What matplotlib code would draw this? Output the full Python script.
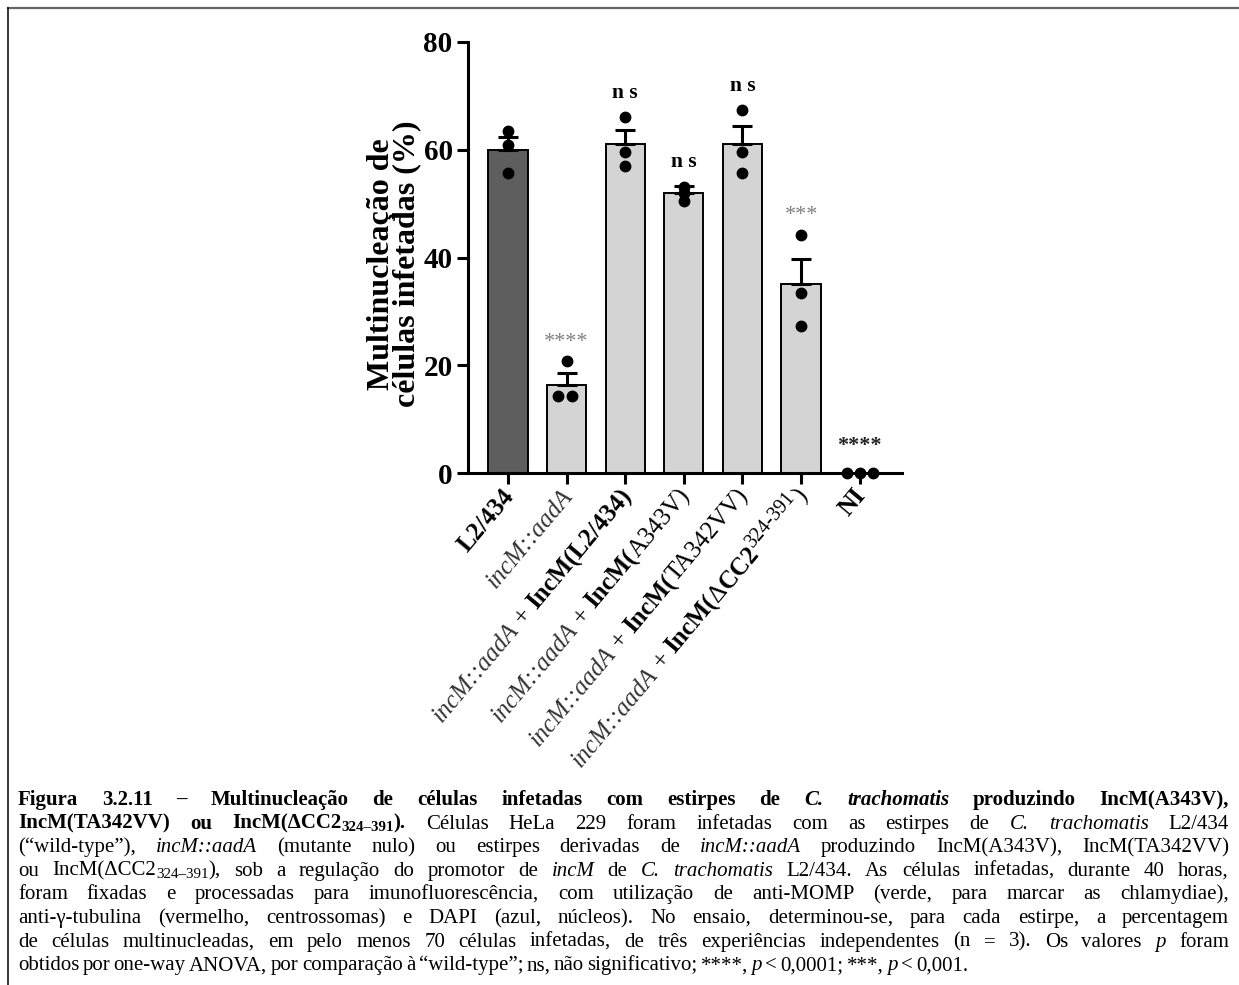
import numpy as np
import matplotlib
matplotlib.use("Agg")
import matplotlib.pyplot as plt
from matplotlib import transforms
from matplotlib.lines import Line2D

# ---------- dados ----------
strains = ["L2/434", "incM::aadA", "IncM(L2/434)", "IncM(A343V)",
           "IncM(TA342VV)", "IncM(ΔCC2 324-391)", "NI"]
means = [60.0, 16.4, 61.0, 51.9, 61.0, 35.0, 0.0]
sems = [2.3, 2.1, 2.6, 1.3, 3.4, 4.8, 0.0]
replicates = [
    [63.5, 60.8, 55.7],
    [20.7, 14.2, 14.2],
    [66.0, 59.6, 57.0],
    [53.1, 52.0, 50.5],
    [67.3, 59.6, 55.7],
    [44.2, 33.5, 27.2],
    [0.0, 0.0, 0.0],
]
signif = ["", "****", "n s", "n s", "n s", "***", "****"]
yticks = [0, 20, 40, 60, 80]

# ---------- estilo ----------
W, H, DPI = 1239, 985, 100
SERIF = "Liberation Serif"
FONT = {
    "r": dict(weight="normal", style="normal"),
    "b": dict(weight="bold", style="normal"),
    "i": dict(weight="normal", style="italic"),
    "bi": dict(weight="bold", style="italic"),
}
bar_colors = ["#5e5e5e"] + ["#d4d4d4"] * 6
dot_dx = [[0, 0, 0], [0, -0.14, 0.10], [0, 0, 0], [0, 0, 0],
          [0, 0, 0], [0, 0, 0], [-0.22, 0, 0.22]]

# rótulos do eixo x: (texto, estilo, mod) ou None para espaço
tick_pieces = [
    [("L2/434", "b", "")],
    [("incM::aadA", "i", "")],
    [("incM::aadA", "i", ""), None, ("+", "r", ""), None, ("IncM(L2/434)", "b", "")],
    [("incM::aadA", "i", ""), None, ("+", "r", ""), None, ("IncM(", "b", ""), ("A343V)", "r", "")],
    [("incM::aadA", "i", ""), None, ("+", "r", ""), None, ("IncM(", "b", ""), ("TA342VV)", "r", "")],
    [("incM::aadA", "i", ""), None, ("+", "r", ""), None, ("IncM(", "b", ""), ("Δ", "r", ""),
     ("CC2", "b", ""), ("324-391", "r", "sup"), (")", "r", "")],
    [("NI", "b", "")],
]

caption = [
    [("Figura 3.2.11 – Multinucleação de células infetadas com estirpes de ", "b", ""),
     ("C. trachomatis", "bi", ""), (" produzindo IncM(A343V),", "b", "")],
    [("IncM(TA342VV) ou IncM(ΔCC2", "b", ""), ("324–391", "b", "sub"), (").", "b", ""),
     (" Células HeLa 229 foram infetadas com as estirpes de ", "r", ""),
     ("C. trachomatis", "i", ""), (" L2/434", "r", "")],
    [("(“wild-type”), ", "r", ""), ("incM::aadA", "i", ""),
     (" (mutante nulo) ou estirpes derivadas de ", "r", ""), ("incM::aadA", "i", ""),
     (" produzindo IncM(A343V), IncM(TA342VV)", "r", "")],
    [("ou IncM(ΔCC2", "r", ""), ("324–391", "r", "sub"),
     ("), sob a regulação do promotor de ", "r", ""), ("incM", "i", ""), (" de ", "r", ""),
     ("C. trachomatis", "i", ""), (" L2/434. As células infetadas, durante 40 horas,", "r", "")],
    [("foram fixadas e processadas para imunofluorescência, com utilização de anti-MOMP "
      "(verde, para marcar as chlamydiae),", "r", "")],
    [("anti-γ-tubulina (vermelho, centrossomas) e DAPI (azul, núcleos). No ensaio, "
      "determinou-se, para cada estirpe, a percentagem", "r", "")],
    [("de células multinucleadas, em pelo menos 70 células infetadas, de três experiências "
      "independentes (n = 3). Os valores ", "r", ""), ("p", "i", ""), (" foram", "r", "")],
    [("obtidos por one-way ANOVA, por comparação à “wild-type”; ns, não significativo; ****, ", "r", ""),
     ("p", "i", ""), (" < 0,0001; ***, ", "r", ""), ("p", "i", ""), (" < 0,001.", "r", "")],
]

fig = plt.figure(figsize=(W / DPI, H / DPI), dpi=DPI)
renderer = fig.canvas.get_renderer()
PIX = transforms.IdentityTransform()

# moldura (linha superior e lateral esquerda)
fig.add_artist(Line2D([8 / W, 1.0], [1 - 8 / H, 1 - 8 / H], color="#666666", lw=1.6))
fig.add_artist(Line2D([8 / W, 8 / W], [0, 1 - 8 / H], color="black", lw=1.1))

ax = fig.add_axes([468 / W, (H - 473) / H, 434 / W, 431 / H])
x = np.arange(len(strains))
ax.bar(x, means, width=0.67, color=bar_colors, edgecolor="black", linewidth=1.4, zorder=2)
has_err = [i for i in x if sems[i] > 0]
ax.errorbar(x[has_err], np.array(means)[has_err],
            yerr=[np.zeros(len(has_err)), np.array(sems)[has_err]],
            fmt="none", ecolor="black", elinewidth=2.2, capsize=7.2, capthick=2.2, zorder=3)
for i, vals in enumerate(replicates):
    ax.plot(np.array(dot_dx[i]) + i, vals, "o", color="black", ms=7.5,
            clip_on=False, zorder=4)

for i, lab in enumerate(signif):
    if not lab:
        continue
    top = max(replicates[i])
    if lab == "n s":
        ax.text(i, top + 4.6, lab, ha="center", va="center", fontsize=15.5,
                family=SERIF, weight="bold", color="black")
    elif i == len(strains) - 1:
        ax.text(i, top + 5.0, lab, ha="center", va="center", fontsize=16,
                family=SERIF, weight="bold", color="#222222")
    else:
        ax.text(i, top + 3.6, lab, ha="center", va="center", fontsize=16,
                family=SERIF, color="#808080")

ax.set_xlim(-0.68, 6.72)
ax.set_ylim(0, 80)
ax.set_yticks(yticks)
ax.set_xticks(x)
ax.set_xticklabels([""] * len(x))
for s in ["top", "right"]:
    ax.spines[s].set_visible(False)
for s in ["left", "bottom"]:
    ax.spines[s].set_linewidth(2.2)
ax.tick_params(axis="both", direction="out", length=8, width=2.2)
ax.tick_params(axis="y", pad=3)
for t in ax.get_yticklabels():
    t.set_fontfamily(SERIF)
    t.set_fontweight("bold")
    t.set_fontsize(21)

ax.text(-0.170, 0.485, "Multinucleação de\ncélulas infetadas (%)", transform=ax.transAxes,
        rotation=90, ha="center", va="center", multialignment="center",
        fontsize=23, family=SERIF, weight="bold", linespacing=0.85)


def text_w(s, size, style):
    t = fig.text(0, 0, s, fontsize=size, family=SERIF, **FONT[style])
    w = t.get_window_extent(renderer).width
    t.remove()
    return w


# rótulos rodados do eixo x
LBL = 18
em = LBL * DPI / 72
ANGLE = 50
ca, sa = np.cos(np.radians(ANGLE)), np.sin(np.radians(ANGLE))
space_lbl = text_w("a a", LBL, "r") - text_w("aa", LBL, "r")
for i, pieces in enumerate(tick_pieces):
    tx, ty = ax.transData.transform((i, 0))
    ex, ey = tx + 1, ty - 11 - 7
    items = []
    for p in pieces:
        if p is None:
            items.append((None, None, None, space_lbl, LBL))
        else:
            txt, st, mod = p
            size = LBL * 0.8 if mod else LBL
            items.append((txt, st, mod, text_w(txt, size, st), size))
    total = sum(it[3] for it in items)
    bx = ex - total * ca + 0.32 * em * sa
    by = ey - total * sa - 0.32 * em * ca
    pos = 0.0
    for txt, st, mod, w, size in items:
        if txt is not None:
            px, py = bx + pos * ca, by + pos * sa
            if mod == "sup":
                px -= 0.36 * em * sa
                py += 0.36 * em * ca
            col = "#333333" if st == "i" else "black"
            fig.text(px, py, txt, transform=PIX, rotation=ANGLE, rotation_mode="anchor",
                     ha="left", va="baseline", fontsize=size, family=SERIF,
                     color=col, **FONT[st])
        pos += w

# legenda justificada
CAP = 15.0
cap_em = CAP * DPI / 72
x_left, x_right, x_last = 18, 1229, 968
base0, step = 805, 23.6
space_cap = text_w("a a", CAP, "r") - text_w("aa", CAP, "r")

for k, line in enumerate(caption):
    words = [[]]
    for txt, st, mod in line:
        parts = txt.split(" ")
        for j, part in enumerate(parts):
            if j > 0:
                words.append([])
            if part:
                words[-1].append((part, st, mod))
    words = [w for w in words if w]
    measured = []
    for wd in words:
        frs = []
        for part, st, mod in wd:
            size = CAP * 0.72 if mod else CAP
            frs.append((part, st, mod, size, text_w(part, size, st)))
        measured.append(frs)
    widths = [sum(f[4] for f in frs) for frs in measured]
    if k < len(caption) - 1:
        gap = (x_right - x_left - sum(widths)) / (len(words) - 1)
    else:
        gap = min(space_cap, (x_last - x_left - sum(widths)) / (len(words) - 1))
    y = H - (base0 + step * k)
    xp = x_left
    for frs, wsum in zip(measured, widths):
        xx = xp
        for part, st, mod, size, w in frs:
            yy = y - 0.10 * cap_em if mod == "sub" else y
            fig.text(xx, yy, part, transform=PIX, ha="left", va="baseline",
                     fontsize=size, family=SERIF, color="black", **FONT[st])
            xx += w
        xp += wsum + gap

fig.savefig("out.png", dpi=DPI)
